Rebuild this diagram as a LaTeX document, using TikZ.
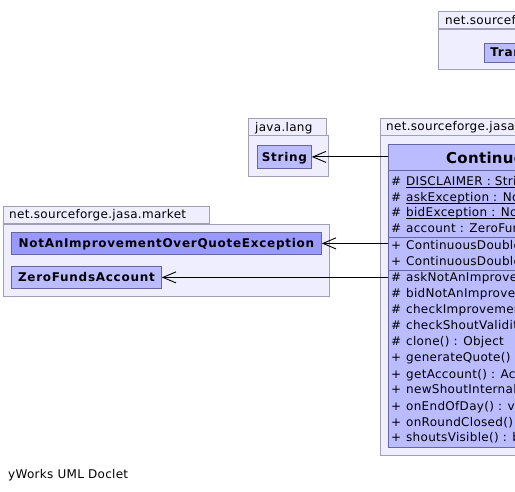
\documentclass[tikz,border=0pt]{standalone}
\usepackage{fontspec}
\setmainfont{DejaVu Sans}
\newfontfamily\umlplain[LetterSpace=2.5]{DejaVu Sans}
\newfontfamily\umlbold[LetterSpace=6]{DejaVu Sans}
\newfontfamily\umltitle[LetterSpace=2]{DejaVu Sans}
\usetikzlibrary{arrows.meta,positioning}
\definecolor{pkgfill}{RGB}{238,238,255}
\definecolor{pkgline}{RGB}{160,160,180}
\definecolor{classfill}{RGB}{187,187,255}
\definecolor{classhot}{RGB}{153,153,255}
\definecolor{classline}{RGB}{102,102,160}

\newsavebox\staticbox
\newcommand{\staticmember}[1]{\sbox\staticbox{#1}\rlap{\rule[-2.2pt]{\wd\staticbox}{0.9pt}}\usebox\staticbox}

\begin{document}
\begin{tikzpicture}[
    x=1pt, y=-1pt,
    pkgbody/.style={rectangle, draw=pkgline, fill=pkgfill, line width=0.8pt,
                    inner sep=0pt, anchor=north west},
    pkgtab/.style={pkgbody, anchor=south west},
    pkglabel/.style={font=\umlplain\fontsize{12}{14}\selectfont, anchor=base west, inner sep=0pt},
    classbox/.style={rectangle, draw=classline, fill=classfill, line width=0.8pt,
                     inner sep=0pt, anchor=north west, text height=11.5pt, text depth=2.5pt,
                     font=\umlbold\bfseries\fontsize{12}{14}\selectfont},
    member/.style={font=\umlplain\fontsize{12}{14}\selectfont, anchor=base west, inner sep=0pt},
    sepline/.style={draw=classline, line width=0.8pt},
    dep/.style={-{Straight Barb[length=13pt, width=11pt]}, line width=0.9pt}
]
\useasboundingbox (0,0) rectangle (515,492);
\clip (0,0) rectangle (515,492);

% superclass package (top right)
\node[pkgbody, minimum width=200pt, minimum height=40pt] (toppkg) at (438,29) {};
\node[pkgtab, minimum width=200pt, minimum height=17pt] (toptab) at (toppkg.north west) {};
\node[pkglabel] (toplabel) at (445,25) {net.sourceforge.jasa.market.auctioneer};
\node[classbox, anchor=west, minimum height=19pt, inner xsep=6pt] (trancls) at (484,52.5) {TransparentAuctioneer};

% java.lang package
\node[pkgbody, minimum width=80pt, minimum height=41pt] (langpkg) at (248,135.5) {};
\node[pkgtab, minimum width=78pt, minimum height=17pt] (langtab) at (langpkg.north west) {};
\node[pkglabel] (langlabel) at (255,132) {java.lang};
\node[classbox, minimum width=54pt, minimum height=23pt] (strcls) at (257,145) {String};

% market package (left)
\node[pkgbody, minimum width=326pt, minimum height=72pt] (mktpkg) at (3,224) {};
\node[pkgtab, minimum width=206pt, minimum height=17pt] (mkttab) at (mktpkg.north west) {};
\node[pkglabel] (mktlabel) at (9,219) {net.sourceforge.jasa.market};
\node[classbox, fill=classhot, minimum width=310pt, minimum height=22pt] (notcls) at (11,232) {NotAnImprovementOverQuoteException};
\node[classbox, minimum width=150pt, minimum height=22pt] (zerocls) at (11,266) {ZeroFundsAccount};

% auctioneer package with the class itself
\node[pkgbody, minimum width=300pt, minimum height=319pt] (aucpkg) at (380,135.5) {};
\node[pkgtab, minimum width=260pt, minimum height=17pt] (auctab) at (aucpkg.north west) {};
\node[pkglabel] (auclabel) at (386,131) {net.sourceforge.jasa.market.auctioneer};
\node[classbox, minimum width=300pt, minimum height=303pt] (cda) at (388,144) {};
\node[font=\umltitle\bfseries\fontsize{15}{18}\selectfont, anchor=base west, inner sep=0pt] (cdaname) at (446,164) {ContinuousDoubleAuctioneer};

\draw[sepline] (cda.west |- 0,170) -- (cda.east |- 0,170);
\draw[sepline] (cda.west |- 0,237) -- (cda.east |- 0,237);
\draw[sepline] (cda.west |- 0,270) -- (cda.east |- 0,270);

% members
\foreach \yy/\vis/\txt [count=\i] in {
    186/\#/\staticmember{DISCLAIMER : String},
    202/\#/\staticmember{askException : NotAnImprovementOverQuoteException},
    217/\#/\staticmember{bidException : NotAnImprovementOverQuoteException},
    233/\#/{account : ZeroFundsAccount},
    250/+/{ContinuousDoubleAuctioneer()},
    266/+/{ContinuousDoubleAuctioneer(Market)},
    282/\#/{askNotAnImprovement(Order) : boolean},
    298/\#/{bidNotAnImprovement(Order) : boolean},
    314/\#/{checkImprovement(Order) : void},
    330/\#/{checkShoutValidity(Order) : void},
    346/\#/{clone() : Object},
    362/+/{generateQuote() : void},
    378/+/{getAccount() : Account},
    394/+/{newShoutInternal(Order) : void},
    410/+/{onEndOfDay() : void},
    426/+/{onRoundClosed() : void},
    442/+/{shoutsVisible() : boolean}} {
  \node[member] (vis\i) at (391,\yy) {\vis};
  \node[member] (mem\i) at (406,\yy) {\txt};
}

% dependencies
\draw[dep] (cda.west |- strcls.east) -- (strcls.east);
\draw[dep] (cda.west |- notcls.east) -- (notcls.east);
\draw[dep] (cda.west |- zerocls.east) -- (zerocls.east);

\node[pkglabel] (footer) at (8,478) {yWorks UML Doclet};

\end{tikzpicture}
\end{document}
